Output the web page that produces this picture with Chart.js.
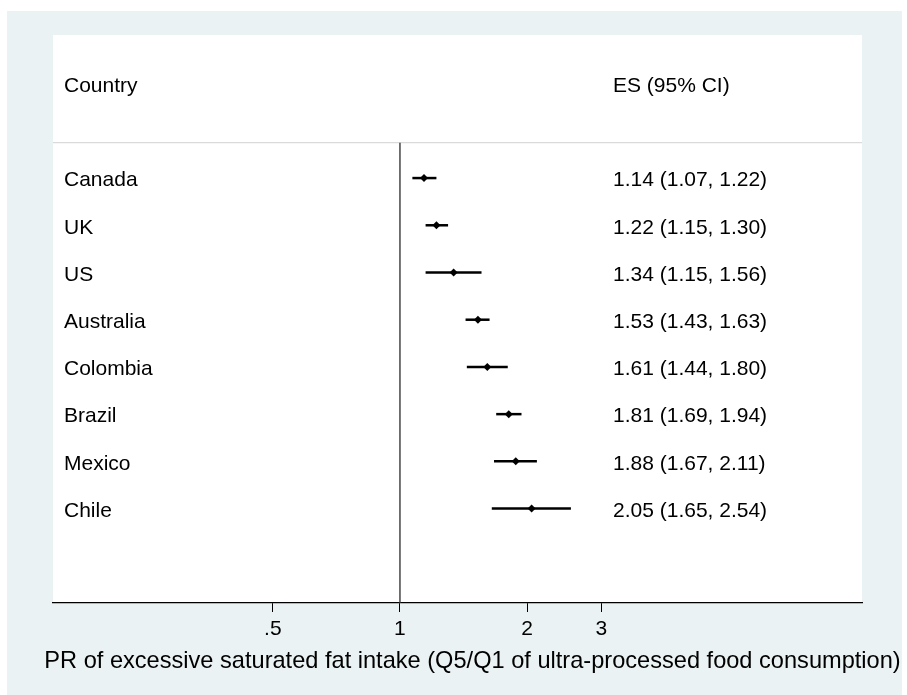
<!DOCTYPE html>
<html>
<head>
<meta charset="utf-8">
<script src="https://cdn.jsdelivr.net/npm/chart.js@4/dist/chart.umd.min.js"></script>
<style>
html,body{margin:0;padding:0;background:#fff;}
#wrap{width:907px;height:695px;position:relative;}
</style>
</head>
<body>
<div id="wrap"><canvas id="c"></canvas></div>
<script>
// ---- data ----
const countries = ["Canada","UK","US","Australia","Colombia","Brazil","Mexico","Chile"];
const es        = [1.14, 1.22, 1.34, 1.53, 1.61, 1.81, 1.88, 2.05];
const ciLow     = [1.07, 1.15, 1.15, 1.43, 1.44, 1.69, 1.67, 1.65];
const ciHigh    = [1.22, 1.30, 1.56, 1.63, 1.80, 1.94, 2.11, 2.54];
const tickValues = [0.5, 1, 2, 3];
const tickLabels = [".5", "1", "2", "3"];
const headerLeft = "Country";
const headerRight = "ES (95% CI)";
const axisTitle = "PR of excessive saturated fat intake (Q5/Q1 of ultra-processed food consumption)";

const FONT = "'Liberation Sans', Arial, Helvetica, sans-serif";
const X_MIN = 0.1508, X_MAX = 12.42;
const Y_MIN = -2.03, Y_MAX = 10;
const HEAD_ROW = -1, LINE_ROW = 0.25;

const rows = countries.map((c, i) => i + 1);

const datasets = [];
// reference line at 1
datasets.push({
  data: [{x: 1, y: LINE_ROW}, {x: 1, y: Y_MAX}],
  showLine: true, borderColor: '#3a3a3a', borderWidth: 1.4, pointRadius: 0, clip: false
});
// faint separator under header
datasets.push({
  data: [{x: X_MIN, y: LINE_ROW}, {x: X_MAX, y: LINE_ROW}],
  showLine: true, borderColor: '#dadada', borderWidth: 1.1, pointRadius: 0
});
// CI lines
countries.forEach((c, i) => {
  datasets.push({
    data: [{x: ciLow[i], y: rows[i]}, {x: ciHigh[i], y: rows[i]}],
    showLine: true, borderColor: '#000', borderWidth: 2.5, pointRadius: 0
  });
});
// point estimates
datasets.push({
  data: countries.map((c, i) => ({x: es[i], y: rows[i]})),
  showLine: false, pointStyle: 'rectRot', pointRadius: 4,
  backgroundColor: '#000', borderColor: '#000', borderWidth: 0
});

const bgPlugin = {
  id: 'bg',
  beforeDraw(chart) {
    const {ctx, chartArea: a} = chart;
    ctx.save();
    ctx.fillStyle = '#ffffff';
    ctx.fillRect(0, 0, chart.width, chart.height);
    ctx.fillStyle = '#eaf2f3';
    ctx.fillRect(7, 11, 895, 684);
    ctx.fillStyle = '#ffffff';
    ctx.fillRect(a.left, a.top, a.right - a.left, a.bottom - a.top);
    ctx.restore();
  }
};

const textPlugin = {
  id: 'texts',
  afterDraw(chart) {
    const {ctx} = chart;
    const ys = chart.scales.y;
    ctx.save();
    ctx.fillStyle = '#000';
    ctx.textBaseline = 'middle';
    ctx.textAlign = 'left';
    ctx.font = "21px " + FONT;
    const off = 2.5;
    ctx.fillText(headerLeft, 64, ys.getPixelForValue(HEAD_ROW) + off);
    ctx.fillText(headerRight, 613, ys.getPixelForValue(HEAD_ROW) + off);
    countries.forEach((c, i) => {
      const y = ys.getPixelForValue(rows[i]) + off;
      ctx.fillText(c, 64, y);
      const s = es[i].toFixed(2) + " (" + ciLow[i].toFixed(2) + ", " + ciHigh[i].toFixed(2) + ")";
      ctx.fillText(s, 613, y);
    });
    ctx.font = "23.6px " + FONT;
    ctx.textAlign = 'center';
    ctx.fillText(axisTitle, 472.5, 661);
    ctx.restore();
  }
};

new Chart(document.getElementById('c'), {
  type: 'scatter',
  data: {datasets},
  plugins: [bgPlugin, textPlugin],
  options: {
    responsive: true,
    maintainAspectRatio: false,
    animation: false,
    events: [],
    layout: {padding: {left: 53, right: 45, top: 35, bottom: 0}},
    plugins: {legend: {display: false}, tooltip: {enabled: false}},
    scales: {
      x: {
        type: 'logarithmic',
        min: X_MIN, max: X_MAX,
        afterBuildTicks(scale) { scale.ticks = tickValues.map(v => ({value: v})); },
        afterFit(scale) { scale.height = 92; },
        ticks: {
          autoSkip: false, maxRotation: 0, padding: 5, color: '#000',
          font: {family: FONT, size: 21},
          callback(value, index) { return tickLabels[index]; }
        },
        grid: {display: true, drawOnChartArea: false, drawTicks: true, tickLength: 9, color: '#000', lineWidth: 1},
        border: {display: true, color: '#000', width: 1.2},
        title: {display: false}
      },
      y: {
        type: 'linear', display: false, reverse: true, min: Y_MIN, max: Y_MAX
      }
    }
  }
});
</script>
</body>
</html>
